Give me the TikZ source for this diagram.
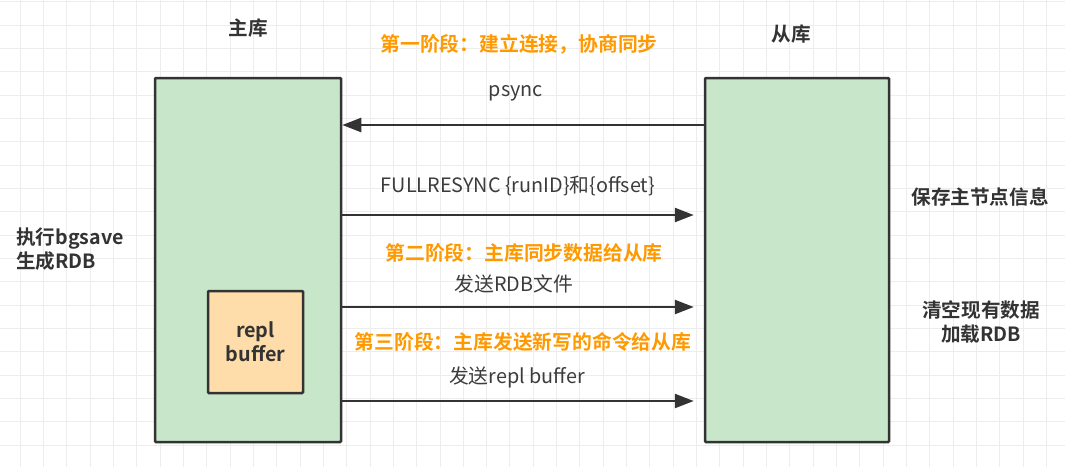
\documentclass[tikz,border=0pt]{standalone}
\usepackage{fontspec}
\setmainfont{Noto Sans CJK SC}[BoldFont={Noto Sans CJK SC Bold}]
\usetikzlibrary{arrows.meta}
\definecolor{gridc}{HTML}{EDEDED}
\definecolor{boxg}{HTML}{C8E6C9}
\definecolor{boxo}{HTML}{FFDDAA}
\definecolor{edge}{HTML}{333333}
\definecolor{orng}{HTML}{FF9900}
\definecolor{txtg}{HTML}{3C3C3C}
\tikzset{
  hostbox/.style={draw=edge, line width=2.5pt, fill=boxg, minimum width=186pt, minimum height=364pt, rounded corners=1pt, inner sep=0pt},
  bufbox/.style={draw=edge, line width=2.5pt, fill=boxo, minimum width=95pt, minimum height=102pt, rounded corners=1pt, align=center, font=\fontsize{19.8}{24}\selectfont\bfseries, text=edge},
  arr/.style={draw=edge, line width=2.5pt, -{Triangle[length=19pt,width=14pt]}},
  title/.style={font=\fontsize{19.6}{24}\selectfont\bfseries, text=edge, inner sep=0pt, align=center},
  stage/.style={font=\fontsize{19.8}{24}\selectfont\bfseries, text=orng, inner sep=0pt},
  msg/.style={font=\fontsize{19.8}{24}\selectfont, text=txtg, inner sep=0pt},
}
\begin{document}
\begin{tikzpicture}[x=1pt,y=-1pt]
\useasboundingbox (0,0) rectangle (1065,467);
\fill[white] (0,0) rectangle (1065,467);
% grid
\foreach \i in {0,...,45} {
  \draw[gridc, line width=1pt] ({20+23.333*\i},0) -- ({20+23.333*\i},467);
}
\foreach \j in {0,...,20} {
  \draw[gridc, line width=1pt] (0,{1.7+23.333*\j}) -- (1065,{1.7+23.333*\j});
}
% boxes
\node[hostbox] (master) at (248,260) {};
\node[hostbox, minimum width=184pt] (slave) at (797,260) {};
\node[bufbox] (buf) at (255.5,342) {repl\\buffer};
% arrow rows
\coordinate (r1) at (0,125);
\coordinate (r2) at (0,215);
\coordinate (r3) at (0,307);
\coordinate (r4) at (0,401);
\draw[arr] (slave.west |- r1) -- (master.east |- r1);
\draw[arr, shorten >=10pt] (master.east |- r2) -- (slave.west |- r2);
\draw[arr, shorten >=10pt] (master.east |- r3) -- (slave.west |- r3);
\draw[arr, shorten >=10pt] (master.east |- r4) -- (slave.west |- r4);
% labels
\node[title] (tmaster) at (248,28) {主库};
\node[title] (tslave) at (791,34) {从库};
\node[stage] (s1) at (519,44) {第一阶段：建立连接，协商同步};
\node[msg] (m1) at (516,93) {psync};
\node[msg] (m2) at (518,186) {FULLRESYNC \{runID\}和\{offset\}};
\node[stage] (s2) at (524,253) {第二阶段：主库同步数据给从库};
\node[msg] (m3) at (514,284) {发送RDB文件};
\node[stage] (s3) at (523,342) {第三阶段：主库发送新写的命令给从库};
\node[msg] (m4) at (517,377) {发送repl buffer};
\node[title, align=left, anchor=west] (bg) at (16,249) {执行bgsave\\生成RDB};
\node[title] (save) at (980,197) {保存主节点信息};
\node[title] (load) at (981,322) {清空现有数据\\加载RDB};
\end{tikzpicture}
\end{document}
